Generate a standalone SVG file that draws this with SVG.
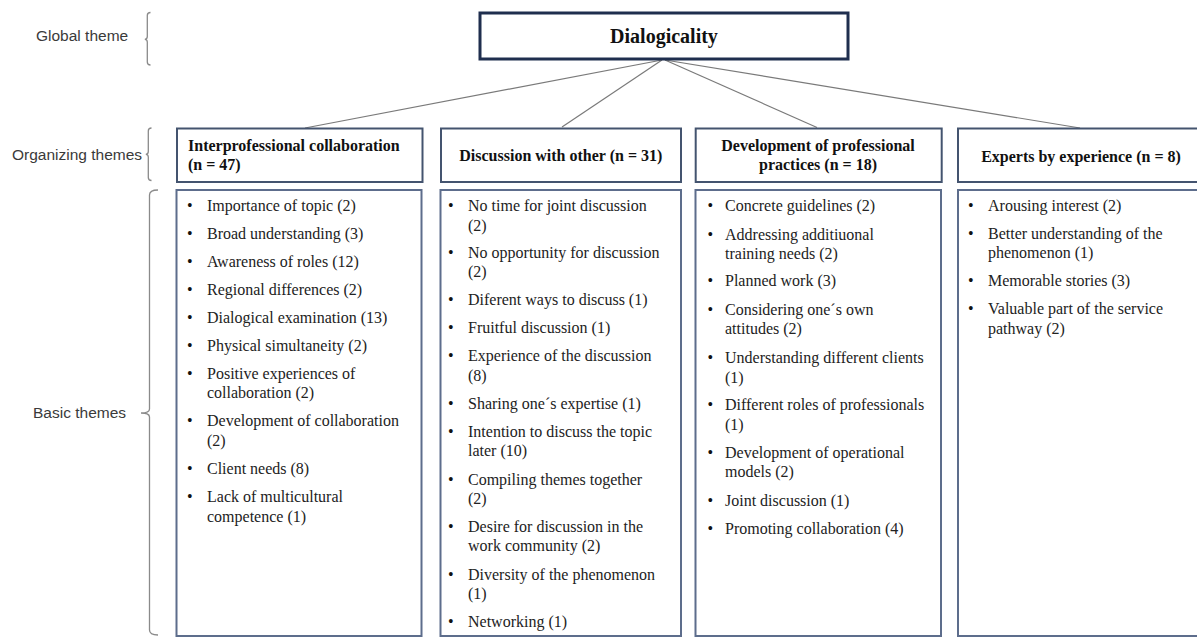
<svg xmlns="http://www.w3.org/2000/svg" width="1197" height="637" viewBox="0 0 1197 637">
<style>
.lbl{font-family:"Liberation Sans",Arial,sans-serif;font-size:15.5px;fill:#3a3a3a}
.brace{fill:none;stroke:#8a8a8a;stroke-width:1.3}
.glob{fill:#fff;stroke:#1f2e4e;stroke-width:3}
.org{fill:#fff;stroke:#44546f;stroke-width:2}
.bas{fill:#fff;stroke:#5d6d8c;stroke-width:2}
.h{font-family:"Liberation Serif","Times New Roman",serif;font-weight:bold;font-size:16px;fill:#111}
.t{font-family:"Liberation Serif","Times New Roman",serif;font-size:16px;fill:#222}
.b{font-family:"Liberation Serif","Times New Roman",serif;font-size:16px;fill:#111}
.conn{stroke:#7a7a7a;stroke-width:1.2;fill:none}
</style>
<rect width="1197" height="637" fill="#fff"/>
<g id="labels">
<text class="lbl" x="36" y="40.5">Global theme</text>
<text class="lbl" x="12" y="159.5">Organizing themes</text>
<text class="lbl" x="33" y="418">Basic themes</text>
<path class="brace" d="M150.5,12.5 Q147.3,12.5 147.3,15.5 L147.3,36.5 Q147.3,39.3 144.8,39.3 Q147.3,39.3 147.3,42 L147.3,62 Q147.3,65 150.5,65"/>
<path class="brace" d="M151.5,128 Q148.3,128 148.3,131 L148.3,151.5 Q148.3,154.3 145.8,154.3 Q148.3,154.3 148.3,157 L148.3,177.5 Q148.3,180.5 151.5,180.5"/>
<path class="brace" d="M158,190 Q149.5,190 149.5,195 L149.5,409 Q149.5,413 141,413 Q149.5,413 149.5,417 L149.5,630 Q149.5,635 158,635"/>
</g>
<g id="connectors">
<line class="conn" x1="662" y1="60" x2="305" y2="128"/>
<line class="conn" x1="662" y1="60" x2="562" y2="127"/>
<line class="conn" x1="665" y1="60" x2="817" y2="127.5"/>
<line class="conn" x1="665" y1="60" x2="1080" y2="128"/>
</g>
<g id="global">
<rect class="glob" x="480" y="13" width="368" height="46"/>
<text class="h" x="664" y="43" text-anchor="middle" style="font-size:20px">Dialogicality</text>
</g>
<g id="org1">
<rect class="org" x="177" y="128.5" width="245.5" height="53.5"/>
<text class="h" x="188" y="151">Interprofessional collaboration</text>
<text class="h" x="188" y="170">(n = 47)</text>
</g>
<g id="org2">
<rect class="org" x="441" y="128.5" width="240" height="53.5"/>
<text class="h" x="560.8" y="161" text-anchor="middle">Discussion with other (n = 31)</text>
</g>
<g id="org3">
<rect class="org" x="695.7" y="128.5" width="246" height="53.5"/>
<text class="h" x="818" y="151" text-anchor="middle">Development of professional</text>
<text class="h" x="818" y="170" text-anchor="middle">practices (n = 18)</text>
</g>
<g id="org4">
<rect class="org" x="958" y="128.5" width="250" height="53.5"/>
<text class="h" x="1081" y="162" text-anchor="middle">Experts by experience (n = 8)</text>
</g>
<g id="basic1">
<rect class="bas" x="176.5" y="190" width="245" height="446"/>
<g class="b">
<text x="187" y="211">•</text><text x="187" y="239">•</text><text x="187" y="267">•</text><text x="187" y="294.5">•</text><text x="187" y="323">•</text><text x="187" y="350.5">•</text><text x="187" y="378.5">•</text><text x="187" y="426">•</text><text x="187" y="474">•</text><text x="187" y="502">•</text>
</g>
<g class="t">
<text x="207" y="211">Importance of topic (2)</text>
<text x="207" y="239">Broad understanding (3)</text>
<text x="207" y="267">Awareness of roles (12)</text>
<text x="207" y="294.5">Regional differences (2)</text>
<text x="207" y="323">Dialogical examination (13)</text>
<text x="207" y="350.5">Physical simultaneity (2)</text>
<text x="207" y="378.5">Positive experiences of</text>
<text x="207" y="398">collaboration (2)</text>
<text x="207" y="426">Development of collaboration</text>
<text x="207" y="445.5">(2)</text>
<text x="207" y="474">Client needs (8)</text>
<text x="207" y="502">Lack of multicultural</text>
<text x="207" y="521.5">competence (1)</text>
</g>
</g>
<g id="basic2">
<rect class="bas" x="440.5" y="190" width="240.5" height="446"/>
<g class="b">
<text x="448" y="211">•</text><text x="448" y="258">•</text><text x="448" y="305">•</text><text x="448" y="333">•</text><text x="448" y="361">•</text><text x="448" y="408.5">•</text><text x="448" y="437">•</text><text x="448" y="484.5">•</text><text x="448" y="532">•</text><text x="448" y="579.5">•</text><text x="448" y="627">•</text>
</g>
<g class="t">
<text x="468" y="211">No time for joint discussion</text>
<text x="468" y="230.5">(2)</text>
<text x="468" y="258">No opportunity for discussion</text>
<text x="468" y="277">(2)</text>
<text x="468" y="305">Diferent ways to discuss (1)</text>
<text x="468" y="333">Fruitful discussion (1)</text>
<text x="468" y="361">Experience of the discussion</text>
<text x="468" y="380.5">(8)</text>
<text x="468" y="408.5">Sharing one´s expertise (1)</text>
<text x="468" y="437">Intention to discuss the topic</text>
<text x="468" y="456">later (10)</text>
<text x="468" y="484.5">Compiling themes together</text>
<text x="468" y="504">(2)</text>
<text x="468" y="532">Desire for discussion in the</text>
<text x="468" y="551">work community (2)</text>
<text x="468" y="579.5">Diversity of the phenomenon</text>
<text x="468" y="599">(1)</text>
<text x="468" y="627">Networking (1)</text>
</g>
</g>
<g id="basic3">
<rect class="bas" x="695.5" y="190" width="245.5" height="446"/>
<g class="b">
<text x="707.5" y="211">•</text><text x="707.5" y="239.5">•</text><text x="707.5" y="286">•</text><text x="707.5" y="314.5">•</text><text x="707.5" y="363">•</text><text x="707.5" y="410">•</text><text x="707.5" y="457.5">•</text><text x="707.5" y="505.5">•</text><text x="707.5" y="533.5">•</text>
</g>
<g class="t">
<text x="725" y="211">Concrete guidelines (2)</text>
<text x="725" y="239.5">Addressing additiuonal</text>
<text x="725" y="259">training needs (2)</text>
<text x="725" y="286">Planned work (3)</text>
<text x="725" y="314.5">Considering one´s own</text>
<text x="725" y="334">attitudes (2)</text>
<text x="725" y="363">Understanding different clients</text>
<text x="725" y="382.5">(1)</text>
<text x="725" y="410">Different roles of professionals</text>
<text x="725" y="429.5">(1)</text>
<text x="725" y="457.5">Development of operational</text>
<text x="725" y="477">models (2)</text>
<text x="725" y="505.5">Joint discussion (1)</text>
<text x="725" y="533.5">Promoting collaboration (4)</text>
</g>
</g>
<g id="basic4">
<rect class="bas" x="958" y="190" width="250" height="446"/>
<g class="b">
<text x="968" y="211">•</text><text x="968" y="238.5">•</text><text x="968" y="286">•</text><text x="968" y="314">•</text>
</g>
<g class="t">
<text x="988" y="211">Arousing interest (2)</text>
<text x="988" y="238.5">Better understanding of the</text>
<text x="988" y="258">phenomenon (1)</text>
<text x="988" y="286">Memorable stories (3)</text>
<text x="988" y="314">Valuable part of the service</text>
<text x="988" y="333.5">pathway (2)</text>
</g>
</g>
</svg>
